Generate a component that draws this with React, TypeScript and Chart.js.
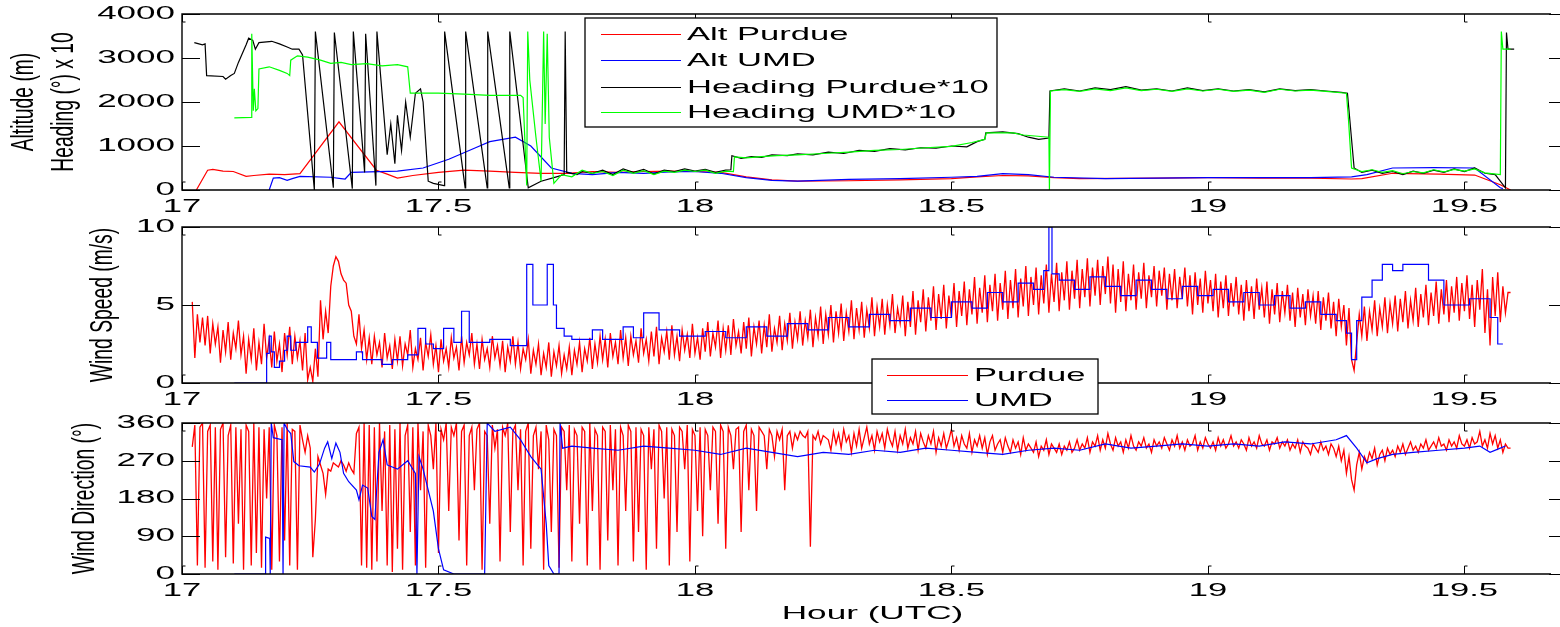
import React, { useEffect, useRef } from 'react';
import { Chart, registerables } from 'chart.js';
Chart.register(...registerables);

// ---------------- DATA ----------------
const hourTicks = [17, 17.5, 18, 18.5, 19, 19.5];
const hourTickLabels = ['17', '17.5', '18', '18.5', '19', '19.5'];
const altTicks = [0, 1000, 2000, 3000, 4000];
const speedTicks = [0, 5, 10];
const dirTicks = [0, 90, 180, 270, 360];

// Panel 1: [hour, value]
const altPurdue: [number, number][] = [
  [17.028, 0], [17.05, 450], [17.06, 470], [17.08, 430], [17.1, 420], [17.125, 310], [17.14, 330], [17.17, 360],
  [17.2, 350], [17.23, 370], [17.306, 1550], [17.379, 450], [17.4, 360], [17.42, 270], [17.45, 330], [17.5, 400],
  [17.55, 450], [17.6, 430], [17.65, 400], [17.7, 380], [17.75, 380], [17.8, 420], [17.85, 400], [17.9, 420],
  [17.95, 430], [18.0, 420], [18.05, 400], [18.1, 300], [18.15, 230], [18.2, 200], [18.3, 210], [18.4, 230],
  [18.5, 260], [18.55, 300], [18.6, 330], [18.65, 320], [18.7, 280], [18.75, 260], [18.9, 270], [19.0, 280],
  [19.1, 270], [19.2, 270], [19.28, 250], [19.3, 260], [19.36, 380], [19.45, 360], [19.52, 340], [19.57, 120], [19.59, 0],
];
const altUMD: [number, number][] = [
  [17.17, 0], [17.178, 270], [17.19, 280], [17.205, 220], [17.215, 260], [17.23, 310], [17.29, 290], [17.31, 260],
  [17.318, 250], [17.33, 400], [17.42, 430], [17.47, 500], [17.52, 700], [17.57, 950], [17.6, 1100], [17.65, 1200],
  [17.68, 1000], [17.72, 500], [17.76, 380], [17.8, 350], [17.85, 400], [17.9, 380], [17.95, 410], [18.0, 420],
  [18.05, 380], [18.1, 280], [18.15, 220], [18.2, 200], [18.3, 240], [18.4, 260], [18.5, 290], [18.55, 310],
  [18.6, 370], [18.65, 350], [18.7, 290], [18.8, 260], [18.9, 270], [19.0, 280], [19.1, 280], [19.2, 280],
  [19.28, 300], [19.31, 350], [19.36, 500], [19.44, 510], [19.52, 500], [19.57, 50], [19.575, 30],
];
const headingPurdue: [number, number][] = [
  [17.024, 3350], [17.04, 3300], [17.045, 3320], [17.048, 2600], [17.08, 2580], [17.085, 2520], [17.095, 2600],
  [17.102, 2650], [17.11, 2900], [17.125, 3300], [17.13, 3450], [17.138, 3400], [17.143, 3200], [17.15, 3350],
  [17.175, 3380], [17.19, 3320], [17.205, 3250], [17.215, 3200], [17.228, 3200], [17.235, 3070], [17.258, 0],
  [17.26, 3600], [17.295, 50], [17.297, 3580], [17.332, 30], [17.334, 3600], [17.356, 400], [17.358, 3550],
  [17.378, 100], [17.38, 3600], [17.4, 800], [17.407, 1500], [17.415, 600], [17.42, 1700], [17.428, 900],
  [17.436, 2000], [17.445, 1200], [17.455, 2200], [17.465, 2300], [17.47, 2000], [17.48, 200], [17.49, 150],
  [17.511, 100], [17.512, 3600], [17.552, 50], [17.553, 3600], [17.595, 50], [17.596, 3600], [17.638, 50],
  [17.639, 3600], [17.675, 50], [17.7, 200], [17.73, 300], [17.745, 350], [17.747, 3600], [17.75, 400],
  [17.77, 350], [17.78, 420], [17.8, 380], [17.82, 450], [17.84, 350], [17.86, 480], [17.88, 400], [17.9, 470],
  [17.92, 360], [17.94, 450], [17.96, 420], [17.98, 480], [18.0, 430], [18.02, 470], [18.04, 400], [18.06, 450],
  [18.07, 460], [18.072, 780], [18.09, 720], [18.11, 760], [18.13, 740], [18.15, 800], [18.18, 780], [18.2, 820],
  [18.23, 800], [18.26, 860], [18.29, 830], [18.32, 900], [18.35, 880], [18.38, 940], [18.41, 910], [18.44, 960],
  [18.47, 950], [18.5, 1000], [18.53, 980], [18.55, 1100], [18.565, 1150], [18.567, 1300], [18.6, 1320],
  [18.63, 1280], [18.65, 1200], [18.67, 1150], [18.69, 1180], [18.692, 2250], [18.72, 2300], [18.75, 2250],
  [18.78, 2320], [18.81, 2280], [18.84, 2350], [18.87, 2270], [18.9, 2300], [18.93, 2250], [18.96, 2320],
  [18.99, 2260], [19.02, 2300], [19.05, 2250], [19.08, 2280], [19.11, 2230], [19.14, 2300], [19.17, 2260],
  [19.2, 2280], [19.23, 2250], [19.26, 2220], [19.272, 2200], [19.285, 500], [19.3, 400], [19.32, 450],
  [19.34, 380], [19.36, 420], [19.38, 350], [19.4, 430], [19.42, 380], [19.44, 450], [19.46, 400], [19.48, 480],
  [19.5, 420], [19.52, 500], [19.54, 380], [19.56, 350], [19.58, 50], [19.582, 3580], [19.585, 3200], [19.597, 3200],
];
const headingUMD: [number, number][] = [
  [17.102, 1640], [17.135, 1650], [17.136, 3550], [17.139, 1800], [17.141, 2300], [17.144, 1800], [17.148, 1850],
  [17.15, 2750], [17.17, 2800], [17.19, 2720], [17.205, 2650], [17.21, 2600], [17.212, 2950], [17.225, 3050],
  [17.245, 3020], [17.27, 2950], [17.29, 2880], [17.31, 2900], [17.33, 2850], [17.36, 2870], [17.39, 2820],
  [17.42, 2850], [17.44, 2800], [17.445, 2200], [17.5, 2200], [17.55, 2180], [17.6, 2150], [17.66, 2150],
  [17.665, 2100], [17.672, 100], [17.674, 3600], [17.678, 2500], [17.69, 1200], [17.7, 200], [17.705, 3600],
  [17.708, 1500], [17.712, 3550], [17.716, 1200], [17.725, 150], [17.74, 350], [17.76, 300], [17.78, 450],
  [17.8, 380], [17.82, 420], [17.84, 330], [17.86, 450], [17.88, 380], [17.9, 440], [17.92, 350], [17.94, 430],
  [17.96, 400], [17.98, 450], [18.0, 420], [18.02, 450], [18.04, 380], [18.06, 430], [18.075, 420], [18.077, 750],
  [18.1, 730], [18.13, 760], [18.16, 780], [18.2, 800], [18.25, 830], [18.3, 860], [18.35, 900], [18.4, 920],
  [18.45, 960], [18.5, 990], [18.54, 1080], [18.565, 1150], [18.568, 1300], [18.62, 1300], [18.64, 1250],
  [18.69, 1200], [18.691, 0], [18.693, 2250], [18.72, 2280], [18.75, 2240], [18.78, 2300], [18.81, 2260],
  [18.84, 2320], [18.87, 2260], [18.9, 2290], [18.93, 2240], [18.96, 2300], [18.99, 2250], [19.02, 2290],
  [19.05, 2240], [19.08, 2270], [19.11, 2220], [19.14, 2290], [19.17, 2250], [19.2, 2270], [19.23, 2240],
  [19.27, 2200], [19.274, 1600], [19.28, 500], [19.3, 420], [19.32, 460], [19.34, 400], [19.36, 440], [19.38, 370],
  [19.4, 420], [19.42, 390], [19.44, 460], [19.46, 410], [19.48, 470], [19.5, 430], [19.52, 480], [19.54, 390],
  [19.57, 350], [19.572, 3600], [19.575, 3200], [19.59, 3200],
];

// Panel 2: Purdue wind speed sampled every 0.005 h from 17.02 h
const windSpeedPurdueStart = 17.02;
const windSpeedPurdueStep = 0.005;
const windSpeedPurdue = [
  5.2, 1.6, 4.4, 2.6, 4.2, 2.4, 4.3, 1.9, 3.8, 2.5,
  3.6, 1.3, 3.4, 2.0, 3.9, 1.5, 3.2, 2.2, 4.0, 1.8,
  3.0, 0.6, 2.8, 1.5, 3.5, 0.8, 2.6, 1.2, 3.8, 1.6,
  2.8, 1.0, 3.3, 1.4, 2.5, 0.7, 3.2, 1.8, 3.6, 1.2,
  3.0, 1.6, 2.7, 0.8, 3.2, 0.2, 1.0, 0.1, 2.2, 0.4,
  5.3, 2.8, 4.6, 3.2, 6.2, 7.5, 8.1, 7.8, 7.0, 6.6,
  6.4, 5.0, 4.6, 3.0, 2.5, 4.4, 2.2, 3.4, 1.5, 2.9,
  1.2, 3.0, 1.8, 2.6, 1.0, 3.2, 1.6, 2.4, 0.9, 2.8,
  1.4, 3.0, 1.1, 2.5, 1.8, 3.4, 1.0, 2.2, 1.5, 2.9,
  0.8, 2.6, 1.7, 3.1, 1.2, 2.4, 0.7, 2.8, 1.4, 2.2,
  1.0, 2.9, 1.6, 2.3, 0.8, 3.0, 1.3, 2.6, 1.8, 3.2,
  1.2, 2.5, 0.9, 2.8, 1.5, 2.2, 1.0, 3.0, 1.6, 2.4,
  1.1, 2.7, 0.7, 2.3, 1.4, 3.0, 1.2, 2.6, 0.9, 2.2,
  1.5, 2.8, 0.6, 2.1, 1.2, 2.5, 0.5, 1.9, 1.0, 2.6,
  0.4, 2.0, 1.1, 2.4, 0.6, 1.8, 0.9, 2.3, 0.5, 2.1,
  1.2, 2.6, 0.7, 2.2, 1.4, 2.9, 0.9, 2.5, 1.3, 3.0,
  1.5, 2.8, 1.0, 3.2, 1.7, 2.6, 1.2, 3.4, 1.6, 2.9,
  1.1, 3.0, 1.8, 2.7, 1.3, 3.5, 1.9, 2.8, 1.4, 3.3,
  1.7, 3.6, 1.2, 2.9, 2.0, 3.3, 1.5, 3.7, 1.8, 3.0,
  1.4, 3.4, 2.1, 3.1, 1.6, 3.8, 1.9, 2.9, 1.5, 3.5,
  2.0, 3.9, 1.7, 3.2, 2.3, 4.0, 1.6, 3.5, 2.1, 3.7,
  1.8, 4.1, 2.4, 3.3, 1.9, 3.9, 2.2, 4.2, 1.7, 3.6,
  2.5, 4.0, 1.9, 3.7, 2.3, 4.4, 2.0, 3.5, 2.6, 4.3,
  2.1, 3.8, 2.7, 4.5, 2.2, 3.9, 2.8, 4.6, 2.4, 4.0,
  2.9, 4.7, 2.3, 4.2, 3.0, 4.9, 2.5, 4.4, 3.1, 5.0,
  2.6, 4.6, 3.2, 5.1, 2.7, 4.5, 3.3, 5.3, 2.8, 4.8,
  3.4, 5.2, 2.9, 4.7, 3.5, 5.5, 3.0, 4.9, 3.6, 5.4,
  3.1, 5.0, 3.7, 5.7, 3.2, 4.8, 3.8, 5.6, 3.0, 5.2,
  3.6, 5.9, 3.1, 5.3, 3.9, 6.0, 3.3, 5.5, 4.0, 6.2,
  3.4, 5.7, 4.1, 6.3, 3.5, 5.6, 4.2, 6.4, 3.6, 5.9,
  4.3, 6.5, 3.7, 6.0, 4.4, 6.8, 3.8, 6.1, 4.5, 6.9,
  3.9, 6.3, 4.6, 7.0, 4.0, 6.4, 4.7, 7.2, 4.1, 6.6,
  4.8, 7.3, 4.2, 6.7, 4.9, 7.5, 4.3, 6.8, 5.0, 7.4,
  4.4, 6.9, 5.1, 7.6, 4.5, 7.0, 5.2, 7.7, 4.6, 7.1,
  5.3, 7.8, 4.7, 7.2, 5.4, 7.9, 4.8, 7.3, 5.5, 8.0,
  4.9, 7.4, 5.6, 7.9, 5.0, 7.5, 5.7, 8.1, 5.1, 7.6,
  4.5, 7.3, 5.2, 7.8, 4.6, 7.0, 5.3, 7.6, 4.7, 7.1,
  5.4, 7.7, 4.8, 6.9, 5.5, 7.5, 4.9, 7.2, 5.6, 7.4,
  4.7, 7.0, 5.3, 7.3, 4.8, 6.8, 5.4, 7.4, 4.9, 6.9,
  4.4, 7.1, 5.0, 6.7, 4.5, 7.2, 5.1, 6.6, 4.6, 7.0,
  4.2, 6.5, 4.8, 6.9, 4.3, 6.4, 4.9, 6.8, 4.4, 6.3,
  4.0, 6.6, 4.6, 6.2, 4.1, 6.7, 4.7, 6.1, 4.2, 6.5,
  3.8, 6.0, 4.4, 6.4, 3.9, 5.9, 4.5, 6.3, 4.0, 5.8,
  3.6, 6.1, 4.2, 5.7, 3.7, 6.0, 4.3, 5.6, 3.8, 5.9,
  3.4, 5.5, 4.0, 5.8, 3.5, 5.2, 3.0, 5.4, 3.6, 5.0,
  2.4, 4.8, 1.5, 0.8, 2.6, 4.4, 3.0, 4.9, 2.7, 4.6,
  3.4, 5.3, 3.0, 4.8, 3.6, 5.5, 3.2, 5.1, 3.8, 5.6,
  3.3, 5.4, 3.9, 5.9, 3.5, 5.3, 4.0, 6.1, 3.6, 5.7,
  4.2, 6.3, 3.7, 5.8, 4.3, 6.5, 3.8, 6.0, 4.4, 6.6,
  3.9, 6.2, 4.5, 6.8, 4.0, 6.4, 4.6, 6.9, 4.1, 6.3,
  3.6, 6.6, 4.7, 7.3, 3.2, 6.0, 2.4, 6.8, 4.3, 7.1,
  3.9, 6.2, 4.5, 5.8, 5.8,
];
// UMD wind speed, [hour, value] held until next sample
const windSpeedUMD: [number, number][] = [
  [17.102, 0], [17.165, 1.9], [17.17, 3.0], [17.174, 2.0], [17.18, 1.0], [17.19, 1.4], [17.2, 2.1], [17.205, 3.0],
  [17.212, 2.1], [17.222, 2.6], [17.245, 3.6], [17.252, 2.6], [17.264, 1.6], [17.282, 2.6], [17.29, 1.5],
  [17.34, 2.0], [17.352, 1.5], [17.39, 1.2], [17.41, 1.5], [17.44, 1.8], [17.46, 3.5], [17.475, 2.5], [17.49, 2.2],
  [17.51, 3.5], [17.53, 2.6], [17.545, 4.6], [17.56, 2.6], [17.6, 2.8], [17.64, 2.4], [17.672, 7.6], [17.684, 5.0],
  [17.712, 7.6], [17.724, 5.0], [17.73, 3.5], [17.745, 3.0], [17.76, 2.8], [17.8, 3.4], [17.82, 2.8], [17.86, 3.6],
  [17.88, 2.9], [17.9, 4.5], [17.93, 3.4], [17.97, 3.0], [18.02, 3.3], [18.06, 2.9], [18.1, 3.6], [18.14, 3.0],
  [18.18, 3.8], [18.22, 3.4], [18.26, 4.2], [18.3, 3.6], [18.34, 4.4], [18.38, 4.0], [18.42, 4.8], [18.46, 4.2],
  [18.5, 5.2], [18.54, 4.8], [18.57, 5.8], [18.6, 5.2], [18.63, 6.4], [18.66, 6.0], [18.68, 7.2], [18.69, 10.0],
  [18.696, 7.0], [18.71, 6.6], [18.74, 6.0], [18.77, 6.8], [18.8, 6.2], [18.83, 5.6], [18.86, 6.6], [18.89, 6.0],
  [18.92, 5.4], [18.95, 6.2], [18.98, 5.6], [19.01, 6.0], [19.04, 5.2], [19.07, 5.8], [19.1, 5.0], [19.13, 5.6],
  [19.16, 4.8], [19.19, 5.2], [19.22, 4.4], [19.25, 4.0], [19.27, 3.2], [19.28, 1.5], [19.29, 4.0], [19.3, 5.5],
  [19.32, 6.6], [19.34, 7.6], [19.36, 7.2], [19.38, 7.6], [19.43, 6.6], [19.46, 5.0], [19.51, 5.4], [19.55, 4.2],
  [19.565, 2.5], [19.575, 2.5],
];

// Panel 3: Purdue wind direction, 0.005 h samples from 17.02 h and from 18.26 h
const windDirPurdueEarlyStart = 17.02;
const windDirPurdueEarlyStep = 0.005;
const windDirPurdueEarly = [
  303, 355, 20, 350, 360, 15, 340, 355, 30, 350,
  10, 345, 360, 40, 330, 355, 25, 350, 120, 345,
  10, 355, 340, 20, 360, 50, 350, 15, 345, 180,
  350, 10, 355, 330, 30, 350, 80, 360, 20, 345,
  340, 10, 355, 320, 290, 330, 300, 40, 130, 280,
  260, 240, 190, 250, 245, 265, 260, 255, 270, 260,
  245, 265, 250, 240, 335, 350, 20, 360, 15, 355,
  10, 350, 30, 360, 150, 340, 20, 355, 5, 345,
  60, 360, 10, 330, 355, 100, 350, 20, 360, 200,
  340, 15, 355, 330, 250, 360, 50, 345, 320, 360,
  150, 350, 330, 360, 80, 340, 355, 20, 330, 350,
  200, 345, 360, 10, 340, 330, 120, 355, 300, 345,
  30, 350, 330, 360, 100, 340, 355, 200, 345, 20,
  340, 360, 60, 330, 350, 250, 340, 10, 355, 320,
  100, 345, 330, 15, 350, 340, 200, 355, 30, 345,
  330, 120, 350, 340, 20, 360, 150, 345, 330, 10,
  350, 340, 80, 355, 200, 345, 20, 350, 330, 150,
  355, 340, 30, 350, 100, 345, 330, 10, 350, 250,
  345, 60, 355, 340, 180, 350, 20, 345, 330, 100,
  350, 340, 250, 355, 30, 345, 330, 150, 350, 90,
  345, 330, 200, 350, 340, 120, 355, 340, 60, 350,
  330, 250, 345, 350, 100, 340, 355, 200, 345, 330,
  150, 350, 340, 330, 250, 345, 330, 280, 340, 320,
  345, 200, 330, 340, 300, 335, 320, 340, 330, 325,
  340, 65, 330, 320, 340, 310, 330,
];
const windDirPurdueLateStart = 18.26;
const windDirPurdueLateStep = 0.005;
const windDirPurdueLate = [
  320, 295, 340, 310, 335, 300, 345, 315, 330, 290,
  335, 305, 345, 300, 325, 350, 310, 330, 295, 340,
  315, 335, 300, 345, 320, 305, 340, 295, 330, 310,
  345, 300, 325, 310, 340, 295, 335, 315, 300, 330,
  310, 340, 290, 325, 305, 335, 300, 320, 345, 305,
  325, 295, 330, 310, 300, 335, 290, 320, 305, 330,
  300, 325, 285, 315, 330, 295, 310, 320, 290, 325,
  305, 290, 320, 300, 315, 285, 325, 295, 310, 300,
  290, 315, 280, 305, 295, 320, 285, 310, 300, 290,
  310, 285, 305, 295, 315, 290, 300, 320, 295, 310,
  300, 325, 290, 315, 305, 330, 295, 320, 300, 335,
  310, 295, 325, 305, 315, 290, 320, 300, 330, 305,
  295, 315, 305, 325, 300, 310, 290, 320, 305, 315,
  300, 325, 310, 295, 320, 305, 330, 300, 315, 295,
  320, 305, 310, 330, 295, 315, 300, 325, 310, 300,
  315, 295, 325, 305, 320, 300, 310, 330, 305, 315,
  300, 320, 310, 295, 325, 305, 315, 300, 330, 310,
  305, 320, 295, 315, 310, 325, 300, 315, 305, 320,
  295, 310, 300, 320, 290, 315, 305, 300, 285, 310,
  300, 290, 315, 295, 305, 285, 310, 300, 280, 305,
  270, 295, 240, 280, 225, 200, 260, 290, 250, 280,
  265, 290, 275, 300, 260, 285, 295, 270, 300, 285,
  295, 280, 305, 290, 310, 285, 300, 315, 295, 305,
  290, 310, 300, 320, 295, 305, 315, 300, 325, 305,
  310, 295, 320, 305, 315, 300, 330, 310, 305, 320,
  300, 325, 310, 315, 340, 305, 320, 300, 335, 310,
  330, 300, 320, 290, 310, 300, 300,
];
const windDirUMD: [number, number][] = [
  [17.102, 0], [17.162, 0], [17.163, 88], [17.171, 85], [17.172, 0], [17.174, 360], [17.178, 325], [17.195, 320],
  [17.197, 0], [17.199, 360], [17.205, 345], [17.212, 335], [17.218, 268], [17.228, 258], [17.25, 255],
  [17.258, 243], [17.268, 262], [17.278, 300], [17.284, 315], [17.292, 275], [17.3, 312], [17.308, 290],
  [17.315, 240], [17.325, 220], [17.34, 200], [17.345, 177], [17.352, 212], [17.362, 205], [17.37, 137],
  [17.376, 130], [17.38, 210], [17.384, 290], [17.392, 320], [17.4, 260], [17.42, 250], [17.44, 270],
  [17.455, 240], [17.458, 0], [17.462, 280], [17.47, 250], [17.49, 150], [17.5, 60], [17.51, 10], [17.53, 0],
  [17.59, 0], [17.595, 360], [17.61, 340], [17.64, 350], [17.66, 320], [17.68, 280], [17.7, 250], [17.71, 120],
  [17.715, 20], [17.725, 0], [17.735, 0], [17.737, 360], [17.742, 300], [17.76, 305], [17.8, 300], [17.85, 295],
  [17.9, 305], [17.95, 300], [18.0, 295], [18.05, 285], [18.1, 300], [18.15, 290], [18.2, 280], [18.25, 290],
  [18.3, 285], [18.35, 295], [18.4, 290], [18.45, 300], [18.5, 295], [18.55, 290], [18.6, 285], [18.65, 295],
  [18.7, 300], [18.75, 295], [18.8, 310], [18.85, 300], [18.9, 305], [18.95, 310], [19.0, 305], [19.05, 310],
  [19.1, 305], [19.15, 315], [19.2, 310], [19.25, 320], [19.27, 330], [19.29, 300], [19.31, 265], [19.33, 275],
  [19.36, 285], [19.4, 290], [19.45, 295], [19.5, 300], [19.53, 305], [19.55, 290], [19.57, 300], [19.58, 305],
];

// ---------------- DRAWING ----------------
const FONT = '"Liberation Sans", Arial, Helvetica, sans-serif';
const RED = '#ff0000';
const BLUE = '#0000ff';
const BLACK = '#000000';
const GREEN = '#00ff00';

const pairs = (a: [number, number][]) => a.map(([x, y]) => ({ x, y }));
const grid = (start: number, step: number, vals: number[]) =>
  vals.map((y, i) => ({ x: +(start + i * step).toFixed(4), y }));

function hText(ctx: CanvasRenderingContext2D, text: string, x: number, y: number, size: number, sx: number,
  align: CanvasTextAlign, baseline: CanvasTextBaseline) {
  ctx.save();
  ctx.translate(x, y);
  ctx.scale(sx, 1);
  ctx.font = `${size}px ${FONT}`;
  ctx.textAlign = align;
  ctx.textBaseline = baseline;
  ctx.fillStyle = '#000';
  ctx.fillText(text, 0, 0);
  ctx.restore();
}
function vText(ctx: CanvasRenderingContext2D, text: string, x: number, y: number, size: number, sy: number) {
  ctx.save();
  ctx.translate(x, y);
  ctx.rotate(-Math.PI / 2);
  ctx.scale(1, sy);
  ctx.font = `${size}px ${FONT}`;
  ctx.textAlign = 'center';
  ctx.textBaseline = 'middle';
  ctx.fillStyle = '#000';
  ctx.fillText(text, 0, 0);
  ctx.restore();
}

type LegendSpec = {
  box: [number, number, number, number];
  lineX: [number, number];
  textX: number;
  rows: { label: string; color: string; y: number }[];
};
type PanelSpec = {
  yTicks: number[];
  yTitles: { text: string; x: number }[];
  xTitle?: string;
  legend?: LegendSpec;
};

function axesPlugin(spec: PanelSpec) {
  return {
    id: 'matlabAxes',
    afterDraw(chart: any) {
      const ctx: CanvasRenderingContext2D = chart.ctx;
      const { left, right, top, bottom } = chart.chartArea;
      const xs = chart.scales.x;
      const ys = chart.scales.y;
      const frameEnd = 1551;
      ctx.save();
      ctx.strokeStyle = '#000';
      ctx.lineWidth = 1.4;
      ctx.beginPath();
      ctx.moveTo(left, top); ctx.lineTo(frameEnd, top);
      ctx.moveTo(left, bottom); ctx.lineTo(frameEnd, bottom);
      ctx.moveTo(left, top - 0.7); ctx.lineTo(left, bottom + 0.7);
      ctx.stroke();
      ctx.lineWidth = 1;
      ctx.beginPath();
      for (const v of spec.yTicks) {
        const py = Math.round(ys.getPixelForValue(v)) + 0.5;
        ctx.moveTo(left, py); ctx.lineTo(left + 18, py);
        ctx.moveTo(right - 18, py); ctx.lineTo(right, py);
      }
      for (const t of hourTicks) {
        const px = Math.round(xs.getPixelForValue(t)) + 0.5;
        ctx.moveTo(px, bottom); ctx.lineTo(px, bottom - 8); ctx.lineTo(px + 3, bottom - 8);
        ctx.moveTo(px, top); ctx.lineTo(px, top + 8); ctx.lineTo(px + 3, top + 8);
      }
      ctx.stroke();
      for (const v of spec.yTicks) {
        hText(ctx, String(v), left - 7, ys.getPixelForValue(v), 17.5, 2.0, 'right', 'middle');
      }
      hourTicks.forEach((t, i) => {
        hText(ctx, hourTickLabels[i], xs.getPixelForValue(t), bottom + 22, 18.5, 1.87, 'center', 'alphabetic');
      });
      const cy = (top + bottom) / 2;
      for (const yt of spec.yTitles) vText(ctx, yt.text, yt.x, cy, 19.3, 1.58);
      if (spec.xTitle) hText(ctx, spec.xTitle, (left + right) / 2 - 2, bottom + 45, 18.5, 1.9, 'center', 'alphabetic');
      if (spec.legend) {
        const L = spec.legend;
        const [x0, y0, x1, y1] = L.box;
        ctx.fillStyle = '#fff';
        ctx.fillRect(x0, y0, x1 - x0, y1 - y0);
        ctx.strokeStyle = '#000';
        ctx.lineWidth = 1.3;
        ctx.strokeRect(x0, y0, x1 - x0, y1 - y0);
        for (const r of L.rows) {
          ctx.strokeStyle = r.color;
          ctx.lineWidth = 1;
          ctx.beginPath();
          ctx.moveTo(L.lineX[0], r.y + 0.5); ctx.lineTo(L.lineX[1], r.y + 0.5);
          ctx.stroke();
          hText(ctx, r.label, L.textX, r.y + 1, 19, 1.82, 'left', 'middle');
        }
      }
      ctx.restore();
    },
  };
}

function lineDs(label: string, data: any[], color: string, order: number, width = 1.2, stepped = false) {
  return {
    label, data, borderColor: color, backgroundColor: color, borderWidth: width,
    pointRadius: 0, fill: false, tension: 0, order, stepped: stepped ? ('before' as const) : false,
  };
}

function makeConfig(datasets: any[], yMin: number, yMax: number, top: number, bottom: number, spec: PanelSpec) {
  return {
    type: 'line' as const,
    data: { datasets },
    options: {
      responsive: false,
      animation: false as const,
      devicePixelRatio: 1,
      layout: { padding: { left: 182, right: 1572 - 1567, top, bottom: 627 - bottom } },
      scales: {
        x: { type: 'linear' as const, min: 17, max: 19.7, display: false },
        y: { type: 'linear' as const, min: yMin, max: yMax, display: false },
      },
      plugins: { legend: { display: false }, tooltip: { enabled: false }, title: { display: false } },
      events: [],
    },
    plugins: [axesPlugin(spec)],
  };
}

export default function App() {
  const r1 = useRef<HTMLCanvasElement>(null);
  const r2 = useRef<HTMLCanvasElement>(null);
  const r3 = useRef<HTMLCanvasElement>(null);

  useEffect(() => {
    const charts: Chart[] = [];
    const c1 = makeConfig([
      lineDs('Alt Purdue', pairs(altPurdue), RED, 3),
      lineDs('Alt UMD', pairs(altUMD), BLUE, 2),
      lineDs('Heading Purdue*10', pairs(headingPurdue), BLACK, 1),
      lineDs('Heading UMD*10', pairs(headingUMD), GREEN, 0),
    ], 0, 4000, 14, 190, {
      yTicks: altTicks,
      yTitles: [{ text: 'Altitude (m)', x: 24.5 }, { text: 'Heading (°) x 10', x: 65 }],
      legend: {
        box: [585, 18, 997, 127], lineX: [601, 681], textX: 687,
        rows: [
          { label: 'Alt Purdue', color: RED, y: 34 },
          { label: 'Alt UMD', color: BLUE, y: 60 },
          { label: 'Heading Purdue*10', color: BLACK, y: 87 },
          { label: 'Heading UMD*10', color: GREEN, y: 112 },
        ],
      },
    });
    const c2 = makeConfig([
      lineDs('Purdue', grid(windSpeedPurdueStart, windSpeedPurdueStep, windSpeedPurdue), RED, 1, 1.3),
      lineDs('UMD', pairs(windSpeedUMD), BLUE, 0, 1.2, true),
    ], 0, 10, 227, 383, {
      yTicks: speedTicks,
      yTitles: [{ text: 'Wind Speed (m/s)', x: 104 }],
      legend: {
        box: [872, 359, 1098, 414], lineX: [887, 968], textX: 974,
        rows: [
          { label: 'Purdue', color: RED, y: 375 },
          { label: 'UMD', color: BLUE, y: 400 },
        ],
      },
    });
    const c3 = makeConfig([
      lineDs('Purdue', [
        ...grid(windDirPurdueEarlyStart, windDirPurdueEarlyStep, windDirPurdueEarly),
        ...grid(windDirPurdueLateStart, windDirPurdueLateStep, windDirPurdueLate),
      ], RED, 1, 1.3),
      lineDs('UMD', pairs(windDirUMD), BLUE, 0),
    ], 0, 360, 423, 574, {
      yTicks: dirTicks,
      yTitles: [{ text: 'Wind Direction (°)', x: 86 }],
      xTitle: 'Hour (UTC)',
    });
    if (r1.current) charts.push(new Chart(r1.current, c1 as any));
    if (r2.current) charts.push(new Chart(r2.current, c2 as any));
    if (r3.current) charts.push(new Chart(r3.current, c3 as any));
    return () => charts.forEach((c) => c.destroy());
  }, []);

  const cs: React.CSSProperties = { position: 'absolute', left: 0, top: 0, width: 1572, height: 627 };
  return (
    <div style={{ position: 'fixed', left: 0, top: 0, width: 1560, height: 627, overflow: 'hidden', background: '#fff' }}>
      <canvas ref={r1} width={1572} height={627} style={cs} />
      <canvas ref={r2} width={1572} height={627} style={cs} />
      <canvas ref={r3} width={1572} height={627} style={cs} />
    </div>
  );
}
